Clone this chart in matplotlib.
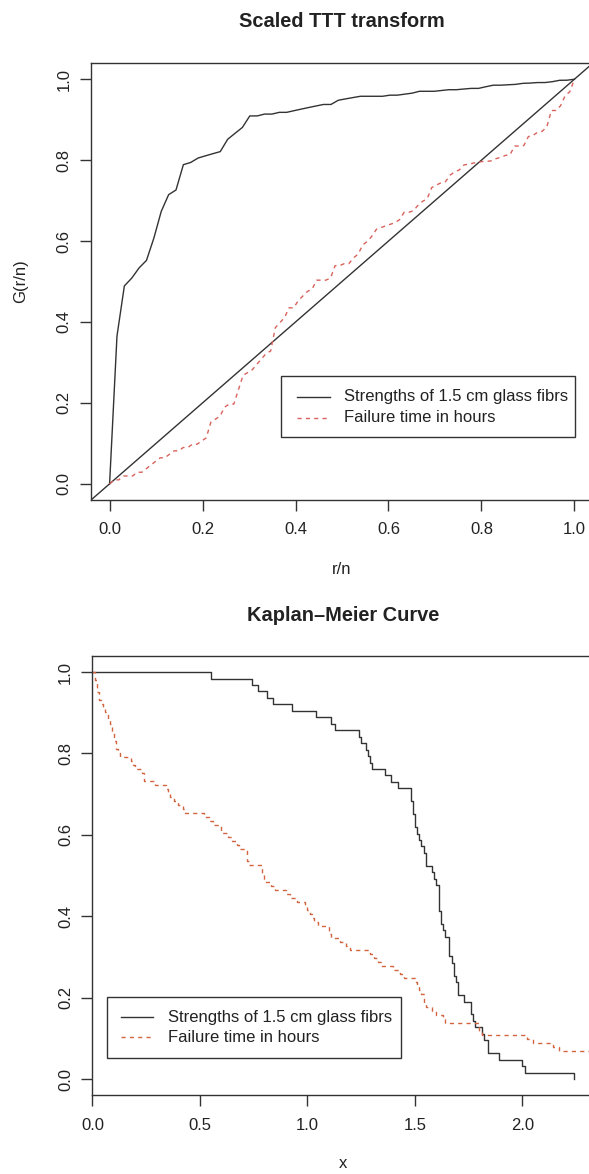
import numpy as np
import matplotlib
matplotlib.use("Agg")
import matplotlib.pyplot as plt
from matplotlib.patches import Rectangle

plt.rcParams['font.family'] = ['Liberation Sans', 'DejaVu Sans']

# strengths of 1.5 cm glass fibres (n = 63)
glass = [0.55, 0.74, 0.77, 0.81, 0.84, 0.93, 1.04, 1.11, 1.13, 1.24, 1.25, 1.27, 1.28,
         1.29, 1.30, 1.36, 1.39, 1.42, 1.48, 1.48, 1.49, 1.49, 1.50, 1.50, 1.51, 1.52,
         1.53, 1.54, 1.55, 1.55, 1.58, 1.59, 1.60, 1.61, 1.61, 1.61, 1.61, 1.62, 1.62,
         1.63, 1.64, 1.66, 1.66, 1.66, 1.67, 1.68, 1.68, 1.69, 1.70, 1.70, 1.73, 1.76,
         1.76, 1.77, 1.78, 1.81, 1.82, 1.84, 1.84, 1.89, 2.00, 2.01, 2.24]

# failure times in hours (n = 101)
hours = [0.01, 0.01, 0.02, 0.02, 0.02, 0.03, 0.03, 0.04, 0.05, 0.06, 0.07, 0.07, 0.08,
         0.09, 0.09, 0.10, 0.10, 0.11, 0.11, 0.12, 0.13, 0.18, 0.19, 0.20, 0.23, 0.24,
         0.24, 0.29, 0.34, 0.35, 0.36, 0.38, 0.40, 0.42, 0.43, 0.52, 0.54, 0.56, 0.60,
         0.60, 0.63, 0.65, 0.67, 0.68, 0.72, 0.72, 0.72, 0.73, 0.79, 0.79, 0.80, 0.80,
         0.83, 0.85, 0.90, 0.92, 0.95, 0.99, 1.00, 1.01, 1.02, 1.03, 1.05, 1.10, 1.10,
         1.11, 1.15, 1.18, 1.20, 1.29, 1.31, 1.33, 1.34, 1.40, 1.43, 1.45, 1.50, 1.51,
         1.52, 1.53, 1.54, 1.54, 1.55, 1.58, 1.60, 1.63, 1.64, 1.80, 1.80, 1.81, 2.02,
         2.05, 2.14, 2.17, 2.33, 3.03, 3.03, 3.34, 4.20, 4.69, 7.89]

labels = ["Strengths of 1.5 cm glass fibrs", "Failure time in hours"]
ttt_ticks = [0.0, 0.2, 0.4, 0.6, 0.8, 1.0]
km_xticks = [0.0, 0.5, 1.0, 1.5, 2.0]
km_yticks = [0.0, 0.2, 0.4, 0.6, 0.8, 1.0]

DARK = '#333333'
RED_TOP = '#d8625c'
RED_BOT = '#d2653f'
DASH = (0, (3, 3))


def ttt(x):
    x = np.sort(np.asarray(x, float))
    n = len(x)
    i = np.arange(1, n + 1)
    g = (np.cumsum(x) + (n - i) * x) / x.sum()
    return np.r_[0, i / n], np.r_[0, g]


def km(x):
    x = np.sort(np.asarray(x, float))
    t, cnt = np.unique(x, return_counts=True)
    s = 1 - np.cumsum(cnt) / len(x)
    return np.r_[0, t], np.r_[1, s]


def style_axes(ax):
    for s in ax.spines.values():
        s.set_color(DARK)
        s.set_linewidth(1.0)
    ax.tick_params(direction='out', length=8, width=1, color=DARK,
                   labelsize=12, labelcolor='#222222')
    ax.tick_params(axis='x', pad=8)
    ax.tick_params(axis='y', pad=6)
    for lab in ax.get_yticklabels():
        lab.set_rotation(90)
        lab.set_va('center')


def legend_box(ax, box, line_x, text_x, rows_y, colors, styles):
    x0, x1, y0, y1 = box
    ax.add_patch(Rectangle((x0, y0), x1 - x0, y1 - y0, transform=ax.transAxes,
                           fc='white', ec=DARK, lw=1.0, zorder=5))
    for y, lab, c, ls in zip(rows_y, labels, colors, styles):
        ax.plot(line_x, [y, y], transform=ax.transAxes, color=c, lw=1.0,
                linestyle=ls, zorder=6)
        ax.text(text_x, y, lab, transform=ax.transAxes, va='center', ha='left',
                fontsize=12, color='#222222', zorder=6)


fig = plt.figure(figsize=(5.89, 11.74), dpi=100)

# --- Scaled TTT transform
ax1 = fig.add_axes([0.1545, 0.5741, 0.8523, 0.3722])
ax1.axline((0, 0), (1, 1), color=DARK, lw=1.0)
r, g = ttt(glass)
ax1.plot(r, g, color=DARK, lw=1.0)
r, g = ttt(hours)
ax1.plot(r, g, color=RED_TOP, lw=1.0, linestyle=DASH)
ax1.set_xlim(-0.04, 1.04)
ax1.set_ylim(-0.04, 1.04)
ax1.set_xticks(ttt_ticks)
ax1.set_yticks(ttt_ticks)
ax1.set_xticklabels([f"{v:.1f}" for v in ttt_ticks])
ax1.set_yticklabels([f"{v:.1f}" for v in ttt_ticks])
style_axes(ax1)
ax1.set_xlabel("r/n", fontsize=12, color='#222222')
ax1.xaxis.set_label_coords(0.5, -0.143)
ax1.set_ylabel("G(r/n)", fontsize=12, color='#222222')
ax1.yaxis.set_label_coords(-0.1245, 0.5)
ax1.set_title("Scaled TTT transform", fontsize=14.4, fontweight='bold',
              color='#222222', y=1.096, va='center', pad=0)
legend_box(ax1, (0.3785, 0.964, 0.1448, 0.2846), [0.410, 0.476], 0.504,
           [0.236, 0.188], [DARK, RED_TOP], ['-', DASH])

# --- Kaplan-Meier curve
ax2 = fig.add_axes([0.157, 0.0670, 0.8504, 0.3744])
t, s = km(glass)
ax2.plot(t, s, color=DARK, lw=1.0, drawstyle='steps-post')
t, s = km(hours)
ax2.plot(t, s, color=RED_BOT, lw=1.0, linestyle=DASH, drawstyle='steps-post')
ax2.set_xlim(0, 2.24 * 1.04)
ax2.set_ylim(-0.04, 1.04)
ax2.set_xticks(km_xticks)
ax2.set_yticks(km_yticks)
ax2.set_xticklabels([f"{v:.1f}" for v in km_xticks])
ax2.set_yticklabels([f"{v:.1f}" for v in km_yticks])
style_axes(ax2)
ax2.set_xlabel("x", fontsize=12, color='#222222')
ax2.xaxis.set_label_coords(0.5, -0.137)
ax2.set_title("Kaplan\u2013Meier Curve", fontsize=14.4, fontweight='bold',
              color='#222222', y=1.0926, va='center', pad=0)
legend_box(ax2, (0.029, 0.616, 0.0849, 0.2236), [0.057, 0.121], 0.151,
           [0.178, 0.1325], [DARK, RED_BOT], ['-', DASH])

fig.savefig("out.png", dpi=100)
plt.close(fig)
